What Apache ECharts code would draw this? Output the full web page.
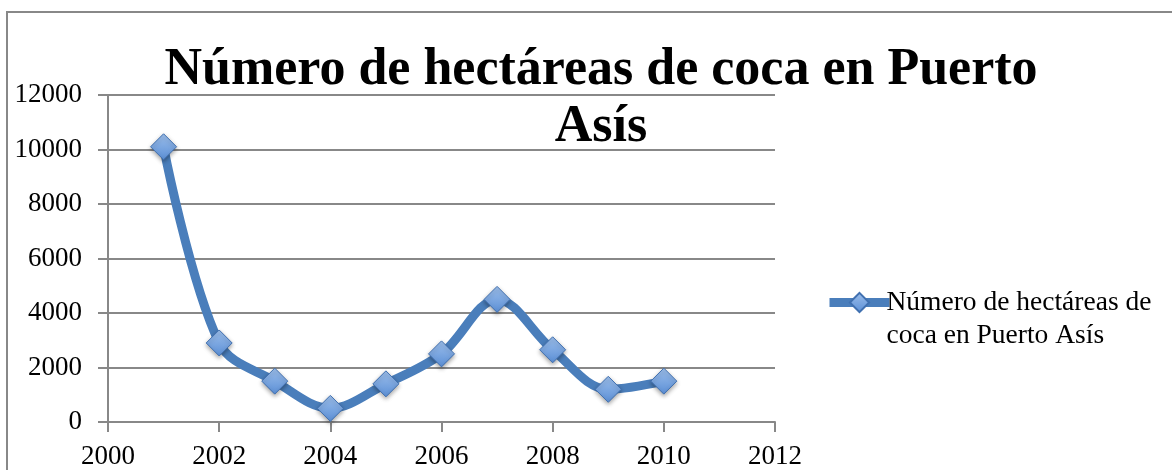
<!DOCTYPE html>
<html>
<head>
<meta charset="utf-8">
<script src="https://cdn.jsdelivr.net/npm/echarts@6/dist/echarts.min.js"></script>
<style>
html, body { margin: 0; padding: 0; background: #fff; }
#chart { width: 1172px; height: 470px; }
</style>
</head>
<body>
<div id="chart"></div>
<script>
var years = [2001, 2002, 2003, 2004, 2005, 2006, 2007, 2008, 2009, 2010];
var hectareas = [10100, 2900, 1500, 500, 1400, 2500, 4500, 2650, 1200, 1500];
var seriesName = 'Número de hectáreas de coca en Puerto Asís';

var myChart = echarts.init(document.getElementById('chart'));
var serif = '"Liberation Serif", "DejaVu Serif", serif';

var points = years.map(function (y, i) { return [y, hectareas[i]]; });

option = {
    backgroundColor: '#fff',
    animation: false,
    title: {
        text: 'Número de hectáreas de coca en Puerto\nAsís',
        left: 596,
        top: 37,
        textAlign: 'center',
        textStyle: {
            fontFamily: serif,
            fontWeight: 'bold',
            fontSize: 52,
            lineHeight: 57,
            color: '#000'
        }
    },
    legend: {
        left: 820,
        top: 248,
        itemWidth: 60,
        itemHeight: 24,
        itemGap: 0,
        lineStyle: { width: 9, color: '#4a7ebb' },
        formatter: function () { return ' \nNúmero de hectáreas de\ncoca en Puerto Asís'; },
        textStyle: { fontFamily: serif, fontSize: 27.5, lineHeight: 33, color: '#000', padding: [0, 0, 0, -8] },
        data: [seriesName]
    },
    grid: { left: 108, right: 397, top: 95, bottom: 46 },
    xAxis: {
        type: 'value',
        min: 2000, max: 2012, interval: 2,
        axisLine: { lineStyle: { color: '#888', width: 2 } },
        axisTick: { show: true, length: 10, lineStyle: { color: '#888', width: 2 } },
        axisLabel: { fontFamily: serif, fontSize: 27, color: '#000', margin: 21, formatter: function (v) { return String(v); } },
        splitLine: { show: false }
    },
    yAxis: {
        type: 'value',
        min: 0, max: 12000, interval: 2000,
        axisLine: { show: true, lineStyle: { color: '#888', width: 2 } },
        axisTick: { show: true, length: 10, lineStyle: { color: '#888', width: 2 } },
        axisLabel: { fontFamily: serif, fontSize: 27, color: '#000', margin: 26, padding: [6, 0, 0, 0], formatter: function (v) { return String(v); } },
        splitLine: { lineStyle: { color: '#888', width: 2 } }
    },
    graphic: [{
        type: 'rect',
        shape: { x: 7, y: 12, width: 1200, height: 500 },
        style: { fill: 'none', stroke: '#888', lineWidth: 2 },
        silent: true
    }],
    series: [{
        name: seriesName,
        type: 'line',
        smooth: 0.35,
        data: points,
        symbol: 'diamond',
        symbolSize: 26,
        lineStyle: { color: '#4a7ebb', width: 9 },
        itemStyle: {
            color: new echarts.graphic.LinearGradient(0, 0, 0, 1, [
                { offset: 0, color: '#9dbfeb' },
                { offset: 1, color: '#5b8fd6' }
            ]),
            borderColor: '#4070b0',
            borderWidth: 1,
            shadowColor: 'rgba(0,0,0,0.35)',
            shadowBlur: 4,
            shadowOffsetY: 2
        }
    }]
};

if (option && typeof option === "object") {
    myChart.setOption(option, true);
}
</script>
</body>
</html>
